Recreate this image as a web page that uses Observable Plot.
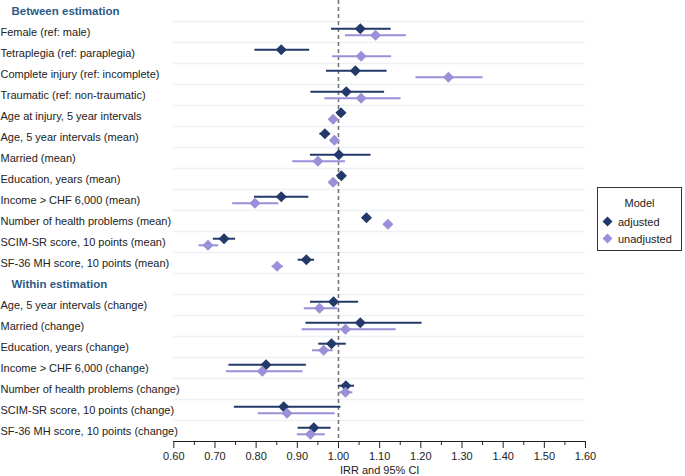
<!DOCTYPE html>
<html>
<head>
<meta charset="utf-8">
<script src="https://cdn.jsdelivr.net/npm/d3@7"></script>
<script src="https://cdn.jsdelivr.net/npm/@observablehq/plot@0.6"></script>
<style>
  html, body { margin: 0; padding: 0; background: #fff; }
  #wrap { position: relative; width: 685px; height: 476px; font-family: "Liberation Sans", Arial, Helvetica, sans-serif; }
  #legend { position: absolute; left: 597px; top: 187px; width: 83px; height: 62px; border: 1px solid #333; background: #fff; font-size: 11px; color: #222; box-sizing: content-box; }
  #legend .title { text-align: center; margin-top: 9px; height: 16px; }
  #legend .row { display: flex; align-items: center; height: 17px; padding-left: 4px; }
  #legend .row svg { margin-right: 5px; }
</style>
</head>
<body>
<div id="wrap"></div>
<script>
const rows = [
  "Between estimation",
  "Female (ref: male)",
  "Tetraplegia (ref: paraplegia)",
  "Complete injury (ref: incomplete)",
  "Traumatic (ref: non-traumatic)",
  "Age at injury, 5 year intervals",
  "Age, 5 year intervals (mean)",
  "Married (mean)",
  "Education, years (mean)",
  "Income > CHF 6,000 (mean)",
  "Number of health problems (mean)",
  "SCIM-SR score, 10 points (mean)",
  "SF-36 MH score, 10 points (mean)",
  "Within estimation",
  "Age, 5 year intervals (change)",
  "Married (change)",
  "Education, years (change)",
  "Income > CHF 6,000 (change)",
  "Number of health problems (change)",
  "SCIM-SR score, 10 points (change)",
  "SF-36 MH score, 10 points (change)"
];
const headers = ["Between estimation", "Within estimation"];
const terms = rows.filter(r => !headers.includes(r));

const adjEst = [1.053, 0.861, 1.041, 1.019, 1.006, 0.967, 1.001, 1.007, 0.861, 1.068, 0.722, 0.922,
                0.988, 1.053, 0.983, 0.824, 1.018, 0.867, 0.940];
const adjLo  = [0.983, 0.797, 0.971, 0.933, 0.997, 0.955, 0.932, 1.000, 0.796, 1.060, 0.696, 0.902,
                0.932, 0.921, 0.952, 0.734, 1.000, 0.747, 0.902];
const adjHi  = [1.128, 0.930, 1.118, 1.112, 1.016, 0.979, 1.079, 1.014, 0.928, 1.076, 0.750, 0.942,
                1.049, 1.203, 1.019, 0.922, 1.039, 1.006, 0.982];
const unEst  = [1.090, 1.055, 1.267, 1.055, 0.987, 0.990, 0.950, 0.987, 0.797, 1.120, 0.683, 0.851,
                0.954, 1.017, 0.964, 0.815, 1.017, 0.875, 0.932];
const unLo   = [1.017, 0.986, 1.188, 0.967, 0.979, 0.982, 0.889, 0.981, 0.743, 1.112, 0.661, 0.839,
                0.917, 0.912, 0.937, 0.728, 1.002, 0.805, 0.900];
const unHi   = [1.165, 1.129, 1.351, 1.152, 0.995, 0.998, 1.017, 0.994, 0.855, 1.128, 0.709, 0.866,
                0.998, 1.140, 0.987, 0.914, 1.035, 0.992, 0.968];

const xTicks = [0.6, 0.7, 0.8, 0.9, 1.0, 1.1, 1.2, 1.3, 1.4, 1.5, 1.6];
const xMinor = [0.65, 0.75, 0.85, 0.95, 1.05, 1.15, 1.25, 1.35, 1.45, 1.55];
const refValue = [1];

const models = ["adjusted", "unadjusted"];
const colors = ["#22396a", "#9a90d8"];

const adjusted = terms.map((t, i) => ({term: t, row: rows.indexOf(t), est: adjEst[i], lo: adjLo[i], hi: adjHi[i]}));
const unadjusted = terms.map((t, i) => ({term: t, row: rows.indexOf(t), est: unEst[i], lo: unLo[i], hi: unHi[i]}));
const rowTable = rows.map((r, i) => ({label: r, row: i, header: headers.includes(r)}));
const gridRows = rowTable.filter(d => d.row > 0);

const ML = 173.3;
const chart = Plot.plot({
  width: 685,
  height: 476,
  marginLeft: ML,
  marginRight: 100,
  marginTop: 0,
  marginBottom: 35,
  style: {fontFamily: "'Liberation Sans', Arial, Helvetica, sans-serif", fontSize: "11px", color: "#222", background: "#fff"},
  x: {domain: [0.6, 1.6]},
  y: {domain: [-0.5, rows.length - 0.5], reverse: true, axis: null},
  marks: [
    Plot.ruleY(gridRows, {y: d => d.row - 0.5, stroke: "#ecf1f4", strokeWidth: 1.6}),
    Plot.ruleX(refValue, {stroke: "#777", strokeWidth: 1.6, strokeDasharray: "4,3"}),
    Plot.ruleY(adjusted, {y: "row", x1: "lo", x2: "hi", dy: -3.3, stroke: colors[0], strokeWidth: 2}),
    Plot.ruleY(unadjusted, {y: "row", x1: "lo", x2: "hi", dy: 3.3, stroke: colors[1], strokeWidth: 2}),
    Plot.dot(adjusted, {y: "row", x: "est", dy: -3.3, symbol: "diamond2", r: 5, fill: colors[0], stroke: null}),
    Plot.dot(unadjusted, {y: "row", x: "est", dy: 3.3, symbol: "diamond2", r: 5, fill: colors[1], stroke: null}),
    Plot.text(rowTable.filter(d => !d.header), {y: "row", text: "label", frameAnchor: "left", textAnchor: "start", dx: -ML, fill: "#222", fontSize: 11}),
    Plot.text(rowTable.filter(d => d.header), {y: "row", text: "label", frameAnchor: "left", textAnchor: "start", dx: -ML + 11, fill: "#2d5b88", fontWeight: "bold", fontSize: 11.5}),
    Plot.frame({anchor: "bottom", stroke: "#222", strokeWidth: 1}),
    Plot.axisX({ticks: xMinor, tickSize: 4, text: null, label: null, stroke: "#222"}),
    Plot.axisX({ticks: xTicks, tickSize: 7, tickPadding: 4, tickFormat: d => d.toFixed(2), label: "IRR and 95% CI", labelAnchor: "center", labelOffset: 32, labelArrow: "none", stroke: "#222"})
  ]
});

const wrap = document.getElementById("wrap");
wrap.appendChild(chart);

const legend = document.createElement("div");
legend.id = "legend";
legend.innerHTML = `<div class="title">Model</div>` + models.map((m, i) =>
  `<div class="row"><svg width="11" height="11" viewBox="-5.5 -5.5 11 11"><path d="M0,-5L5,0L0,5L-5,0Z" fill="${colors[i]}"/></svg>${m}</div>`
).join("");
wrap.appendChild(legend);
</script>
</body>
</html>
